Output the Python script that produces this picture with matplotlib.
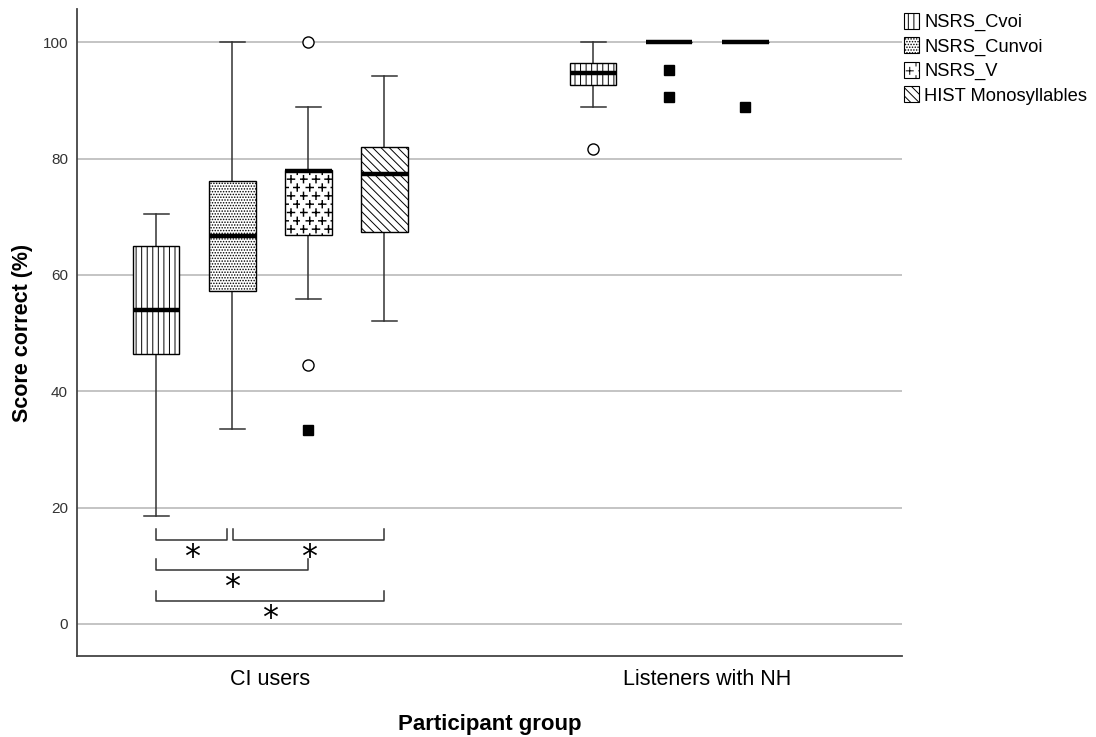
import warnings
import numpy as np
import matplotlib.pyplot as plt
import matplotlib.hatch as mhatch
from matplotlib.path import Path
from matplotlib.patches import Patch

warnings.filterwarnings('ignore')
plt.rcParams['font.family'] = ['Liberation Sans', 'DejaVu Sans']
plt.rcParams['hatch.linewidth'] = 0.7


# staggered small plus signs as a hatch ('p'), like the SPSS pattern
class PlusHatch(mhatch.HatchPatternBase):
    cols = 8
    rows = 12
    arm = 0.035

    def __init__(self, hatch, density):
        self.num_vertices = self.cols * self.rows * 4 if 'p' in hatch else 0

    def set_vertices_and_codes(self, vertices, codes):
        a = self.arm
        k = 0
        for r in range(self.rows):
            y = (r + 0.5) / self.rows
            for c in range(self.cols):
                x = (c + 0.28 + 0.5 * (r % 2)) / self.cols
                vertices[k:k + 4] = [[x - a, y], [x + a, y], [x, y - a], [x, y + a]]
                codes[k:k + 4] = [Path.MOVETO, Path.LINETO, Path.MOVETO, Path.LINETO]
                k += 4


mhatch._hatch_types.append(PlusHatch)

# data
groups = ['CI users', 'Listeners with NH']
tests = ['NSRS_Cvoi', 'NSRS_Cunvoi', 'NSRS_V', 'HIST Monosyllables']
hatches = ['|||', '......', 'p', '\\\\\\\\']

# CI users: one value per test
ci_whislo = [18.6, 33.6, 55.8, 52.1]
ci_q1 = [46.4, 57.3, 66.9, 67.3]
ci_med = [53.9, 66.7, 77.8, 77.3]
ci_q3 = [65.0, 76.2, 78.0, 82.0]
ci_whishi = [70.5, 100.0, 88.9, 94.1]
ci_outliers = [[], [], [100.0, 44.5], []]
ci_extremes = [[], [], [33.4], []]

# listeners with NH (no HIST box)
nh_whislo = [88.9, 100.0, 100.0]
nh_q1 = [92.6, 100.0, 100.0]
nh_med = [94.7, 100.0, 100.0]
nh_q3 = [96.4, 100.0, 100.0]
nh_whishi = [100.0, 100.0, 100.0]
nh_outliers = [[81.6], [], []]
nh_extremes = [[], [95.2, 90.6], [88.9]]

# significance brackets among CI users (test index from, to, level)
sig_from = [0, 1, 0, 0]
sig_to = [1, 3, 2, 3]
sig_y = [14.4, 14.4, 9.25, 3.9]

fig = plt.figure(figsize=(10.96, 7.37), dpi=100)
ax = fig.add_axes([77 / 1096, 81 / 737, 825 / 1096, 647 / 737])

step = 0.174
width = 0.107


def pos(g, i):
    return g + (i - 1.5) * step


group_data = [
    (ci_whislo, ci_q1, ci_med, ci_q3, ci_whishi, ci_outliers, ci_extremes),
    (nh_whislo, nh_q1, nh_med, nh_q3, nh_whishi, nh_outliers, nh_extremes),
]

for g, (wlo, q1, med, q3, whi, outl, extr) in enumerate(group_data):
    stats = []
    positions = []
    for i in range(len(med)):
        stats.append(dict(whislo=wlo[i], q1=q1[i], med=med[i], q3=q3[i],
                          whishi=whi[i], fliers=outl[i]))
        positions.append(pos(g, i))
    bp = ax.bxp(stats, positions=positions, widths=width, capwidths=0.057,
                patch_artist=True,
                boxprops=dict(facecolor='white', edgecolor='black', linewidth=1.0),
                medianprops=dict(color='black', linewidth=3.2, solid_capstyle='butt'),
                whiskerprops=dict(color='#333333', linewidth=1.1),
                capprops=dict(color='#333333', linewidth=1.1),
                flierprops=dict(marker='o', markerfacecolor='white',
                                markeredgecolor='black', markersize=8,
                                markeredgewidth=1.0))
    for i, box in enumerate(bp['boxes']):
        box.set_hatch(hatches[i])
        if hatches[i] == 'p' and hasattr(box, 'set_hatch_linewidth'):
            box.set_hatch_linewidth(1.05)
        box.set_zorder(3)
    for m in bp['medians']:
        m.set_zorder(4)
    for i in range(len(extr)):
        if extr[i]:
            ax.plot([pos(g, i)] * len(extr[i]), extr[i], 's', color='black',
                    markersize=7.5, zorder=5)

# significance brackets
tick = 1.85
for a, b, y in zip(sig_from, sig_to, sig_y):
    x0 = pos(0, a)
    x1 = pos(0, b)
    if a == 0 and b == 1:
        x1 -= 0.011
    if a == 1:
        x0 += 0.003
    ax.plot([x0, x0, x1, x1], [y + tick, y, y, y + tick], color='#333333',
            linewidth=1.1)
    ax.text((x0 + x1) / 2, y - 2.9, '*', ha='center', va='center',
            fontsize=23, family='DejaVu Sans')

ax.set_xlim(-0.442, 1.446)
ax.set_ylim(-5.5, 105.7)
ax.set_yticks([0, 20, 40, 60, 80, 100])
ax.yaxis.grid(True, color='#b4b4b4', linewidth=1.1)
ax.set_axisbelow(True)
ax.set_xticks([0, 1])
ax.set_xticklabels(groups, fontsize=15.5)
ax.tick_params(axis='x', length=0, pad=9.5)
ax.tick_params(axis='y', length=0, pad=6.5, labelsize=11, labelcolor='#333333')

for s in ['top', 'right']:
    ax.spines[s].set_visible(False)
for s in ['left', 'bottom']:
    ax.spines[s].set_color('#444444')
    ax.spines[s].set_linewidth(1.3)

ax.set_xlabel('Participant group', fontsize=16, fontweight='bold', labelpad=17)
ax.set_ylabel('Score correct (%)', fontsize=15.5, fontweight='bold', labelpad=7)

handles = [Patch(facecolor='white', edgecolor='black', hatch=h, linewidth=0.8)
           for h in hatches]
fig.legend(handles, tests, loc='upper left', bbox_to_anchor=(904 / 1096, 1 - 13 / 737),
           frameon=False, fontsize=13.2, handlelength=0.8, handleheight=0.95,
           handletextpad=0.3, labelspacing=0.33, borderpad=0, borderaxespad=0)

fig.savefig('out.png', dpi=100)
